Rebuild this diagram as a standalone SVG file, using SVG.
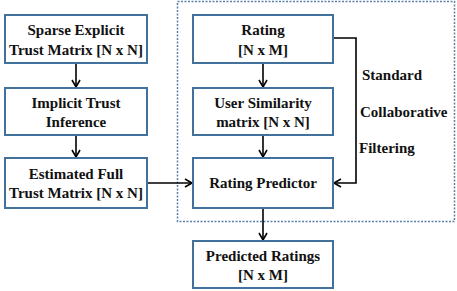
<svg xmlns="http://www.w3.org/2000/svg" width="457" height="291" viewBox="0 0 457 291">
<defs>
<style>
.box{fill:#fff;stroke:#41719c;stroke-width:2}
.t{font-family:"Liberation Serif","Times New Roman",serif;font-weight:bold;font-size:15px;fill:#111;text-anchor:middle}
.l{font-family:"Liberation Serif","Times New Roman",serif;font-weight:bold;font-size:15px;fill:#111}
.c{fill:none;stroke:#000;stroke-width:1.6}
</style>
<marker id="a" markerWidth="10" markerHeight="10" refX="8" refY="5" orient="auto" markerUnits="userSpaceOnUse">
<path d="M1,1 L8,5 L1,9" fill="none" stroke="#000" stroke-width="1.6"/>
</marker>
</defs>
<rect x="177.5" y="1.5" width="277" height="220" fill="none" stroke="#5b80a8" stroke-width="1.5" stroke-dasharray="2,1.5"/>
<g id="connectors">
<path class="c" d="M76,63 V87" marker-end="url(#a)"/>
<path class="c" d="M76,135 V157" marker-end="url(#a)"/>
<path class="c" d="M147,183 H192" marker-end="url(#a)"/>
<path class="c" d="M263,63 V87" marker-end="url(#a)"/>
<path class="c" d="M263,135 V157" marker-end="url(#a)"/>
<path class="c" d="M333,38 H356 V183 H334" marker-end="url(#a)"/>
<path class="c" d="M263,208 V240" marker-end="url(#a)"/>
</g>
<g id="n1"><rect class="box" x="5" y="15" width="142" height="48"/><text class="t" x="76" y="35">Sparse Explicit</text><text class="t" x="76" y="55">Trust Matrix [N x N]</text></g>
<g id="n2"><rect class="box" x="5" y="88" width="142" height="47"/><text class="t" x="76" y="108">Implicit Trust</text><text class="t" x="76" y="127">Inference</text></g>
<g id="n3"><rect class="box" x="5" y="158" width="142" height="50"/><text class="t" x="76" y="179">Estimated Full</text><text class="t" x="76" y="198">Trust Matrix [N x N]</text></g>
<g id="n4"><rect class="box" x="193" y="15" width="140" height="48"/><text class="t" x="263" y="35">Rating</text><text class="t" x="263" y="55">[N x M]</text></g>
<g id="n5"><rect class="box" x="193" y="88" width="140" height="47"/><text class="t" x="263" y="108">User Similarity</text><text class="t" x="263" y="127">matrix [N x N]</text></g>
<g id="n6"><rect class="box" x="193" y="158" width="140" height="50"/><text class="t" x="263" y="188">Rating Predictor</text></g>
<g id="n7"><rect class="box" x="193" y="241" width="140" height="47"/><text class="t" x="263" y="261">Predicted Ratings</text><text class="t" x="263" y="280">[N x M]</text></g>
<text class="l" x="362" y="80">Standard</text>
<text class="l" x="360" y="117">Collaborative</text>
<text class="l" x="359" y="153">Filtering</text>
</svg>
